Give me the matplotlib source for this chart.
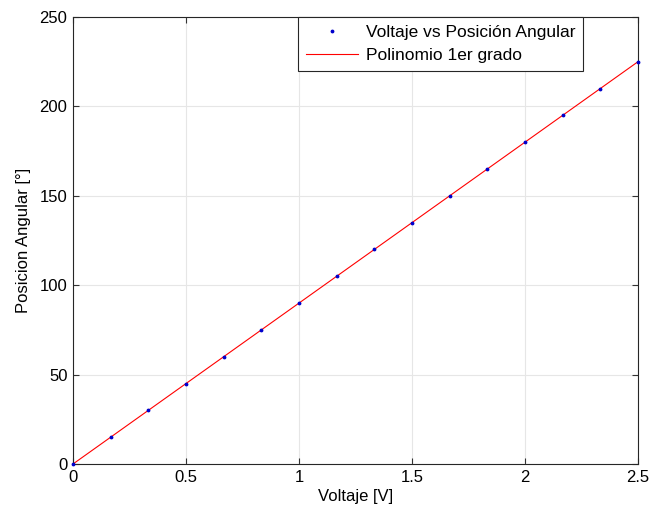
import matplotlib
matplotlib.use('Agg')
import matplotlib.pyplot as plt

# datos
voltaje = [0, 1/6, 2/6, 0.5, 4/6, 5/6, 1.0, 7/6, 8/6, 1.5, 10/6, 11/6, 2.0, 13/6, 14/6, 2.5]
posicion = [0, 15, 30, 45, 60, 75, 90, 105, 120, 135, 150, 165, 180, 195, 210, 225]
ajuste_x = [0, 2.5]
ajuste_y = [0, 225]
xticks = [0, 0.5, 1, 1.5, 2, 2.5]
yticks = [0, 50, 100, 150, 200, 250]

plt.rcParams['font.family'] = ['Liberation Sans', 'DejaVu Sans']
plt.rcParams['font.size'] = 12

fig = plt.figure(figsize=(6.5, 5.15), dpi=100)
ax = fig.add_axes([73/650, 1 - 464/515, (638 - 73)/650, (464 - 17)/515])

ax.plot(ajuste_x, ajuste_y, '-', color='red', linewidth=0.8, label='Polinomio 1er grado', zorder=2)
ax.plot(voltaje, posicion, '.', color='#0000cc', markersize=3.5, label='Voltaje vs Posición Angular',
        clip_on=False, zorder=3)

ax.set_xlim(0, 2.5)
ax.set_ylim(0, 250)
ax.set_xticks(xticks)
ax.set_xticklabels(['0', '0.5', '1', '1.5', '2', '2.5'])
ax.set_yticks(yticks)
ax.grid(True, color='#e6e6e6', linewidth=0.8)
ax.set_axisbelow(True)
ax.tick_params(direction='in', length=4, top=True, right=True, color='#333333', pad=4)
for s in ax.spines.values():
    s.set_color('#262626')
    s.set_linewidth(0.8)

ax.set_xlabel('Voltaje [V]', labelpad=3)
ax.set_ylabel('Posicion Angular [°]', labelpad=6)

handles, labels = ax.get_legend_handles_labels()
leg = ax.legend(handles[::-1], labels[::-1], loc='upper left', bbox_to_anchor=(0.398, 1.0),
                fancybox=False, framealpha=1, edgecolor='#262626', borderaxespad=0,
                handlelength=3.0, handletextpad=0.45, fontsize=12.5, borderpad=0.45,
                labelspacing=0.45)
leg.get_frame().set_linewidth(0.8)

fig.savefig('out.png', dpi=100)
